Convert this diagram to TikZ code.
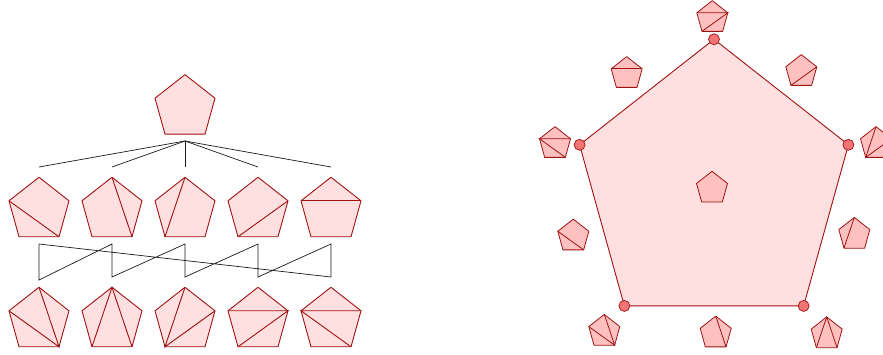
\documentclass[tikz,border=0pt]{standalone}
\usepackage{xcolor}
\usepackage{tikz}
\usetikzlibrary{calc}
\definecolor{redline}{HTML}{A01212}
\definecolor{pinkface}{HTML}{FFDFDF}
\definecolor{pinkdeep}{HTML}{FFC0C0}
\definecolor{dotred}{HTML}{F27474}
\definecolor{blackmain}{HTML}{1A1A1A}
\tikzset{
  penta/.pic={
    \path[#1] (0,0.992) coordinate (-t) -- (-1,0.207) coordinate (-l)
      -- (-0.667,-0.992) coordinate (-bl) -- (0.667,-0.992) coordinate (-br)
      -- (1,0.207) coordinate (-r) -- cycle;
  },
  bigface/.style={fill=pinkface,draw=redline,line width=0.9pt,line join=round},
  smallface/.style={fill=pinkdeep,draw=redline,line width=0.8pt,line join=round},
  chord/.style={redline,line width=0.9pt},
  vertexdot/.style={circle,fill=dotred,draw=redline,line width=0.7pt,inner sep=0pt,minimum size=11pt},
  link/.style={blackmain,line width=0.7pt}
}

\begin{document}
\begin{tikzpicture}[x=1pt,y=1pt]
  \useasboundingbox (0,0) rectangle (883,-354);
  % left: diagonals and triangulations
  \pic[scale=30] (top) at (185,-104.4) {penta=bigface};
  \coordinate (hub) at (185,-141);
  \foreach \i/\x in {1/39,2/112,3/185,4/258,5/331} {
    \pic[scale=30] (d\i) at (\x,-207) {penta=bigface};
    \pic[scale=30] (t\i) at (\x,-317) {penta=bigface};
    \coordinate (e\i) at (\x,-167);
    \coordinate (u\i) at (\x,-244);
    \coordinate (w\i) at (\x,-277);
  }
  \coordinate (w1) at (39,-280);
  \draw[chord] (d1-l)--(d1-br);
  \draw[chord] (d2-t)--(d2-br);
  \draw[chord] (d3-t)--(d3-bl);
  \draw[chord] (d4-r)--(d4-bl);
  \draw[chord] (d5-l)--(d5-r);
  \draw[chord] (t1-l)--(t1-br)--(t1-t);
  \draw[chord] (t2-bl)--(t2-t)--(t2-br);
  \draw[chord] (t3-t)--(t3-bl)--(t3-r);
  \draw[chord] (t4-l)--(t4-r)--(t4-bl);
  \draw[chord] (t5-r)--(t5-l)--(t5-br);
  \foreach \i in {1,...,5} \draw[link] (hub)--(e\i);
  \draw[link] (u1)--(w1)--(u2)--(w2)--(u3)--(w3)--(u4)--(w4)--(u5)--(w5)--(u1);
  % right: the big pentagon
  \pic[scale=134.4] (big) at (714,-172.6) {penta=bigface};
  \node[vertexdot] (vt) at (big-t) {};
  \node[vertexdot] (vl) at (big-l) {};
  \node[vertexdot] (vr) at (big-r) {};
  \node[vertexdot] (vbl) at (big-bl) {};
  \node[vertexdot] (vbr) at (big-br) {};
  \pic[scale=15.5] (s1) at (712.3,-16) {penta=smallface};
  \pic[scale=15.5] (s2) at (626.7,-72) {penta=smallface};
  \pic[scale=15.5] (s3) at (801.3,-70) {penta=smallface};
  \pic[scale=15.5] (s4) at (555,-142) {penta=smallface};
  \pic[scale=15.5] (s5) at (876,-142) {penta=smallface};
  \pic[scale=15.5] (s6) at (712,-186.7) {penta=smallface};
  \pic[scale=15.5] (s7) at (573.3,-234.5) {penta=smallface};
  \pic[scale=15.5] (s8) at (854.3,-232.8) {penta=smallface};
  \pic[scale=15.5] (s9) at (604.3,-329.8) {penta=smallface};
  \pic[scale=15.5] (s10) at (715.7,-331.5) {penta=smallface};
  \pic[scale=15.5] (s11) at (826.7,-332.3) {penta=smallface};
  \draw[chord,line width=0.8pt] (s1-l)--(s1-r)--(s1-bl);
  \draw[chord,line width=0.8pt] (s2-l)--(s2-r);
  \draw[chord,line width=0.8pt] (s3-bl)--(s3-r);
  \draw[chord,line width=0.8pt] (s4-r)--(s4-l)--(s4-br);
  \draw[chord,line width=0.8pt] (s5-t)--(s5-bl)--(s5-r);
  \draw[chord,line width=0.8pt] (s7-l)--(s7-br);
  \draw[chord,line width=0.8pt] (s8-t)--(s8-bl);
  \draw[chord,line width=0.8pt] (s9-t)--(s9-br)--(s9-l);
  \draw[chord,line width=0.8pt] (s10-t)--(s10-br);
  \draw[chord,line width=0.8pt] (s11-bl)--(s11-t)--(s11-br);
\end{tikzpicture}
\end{document}
